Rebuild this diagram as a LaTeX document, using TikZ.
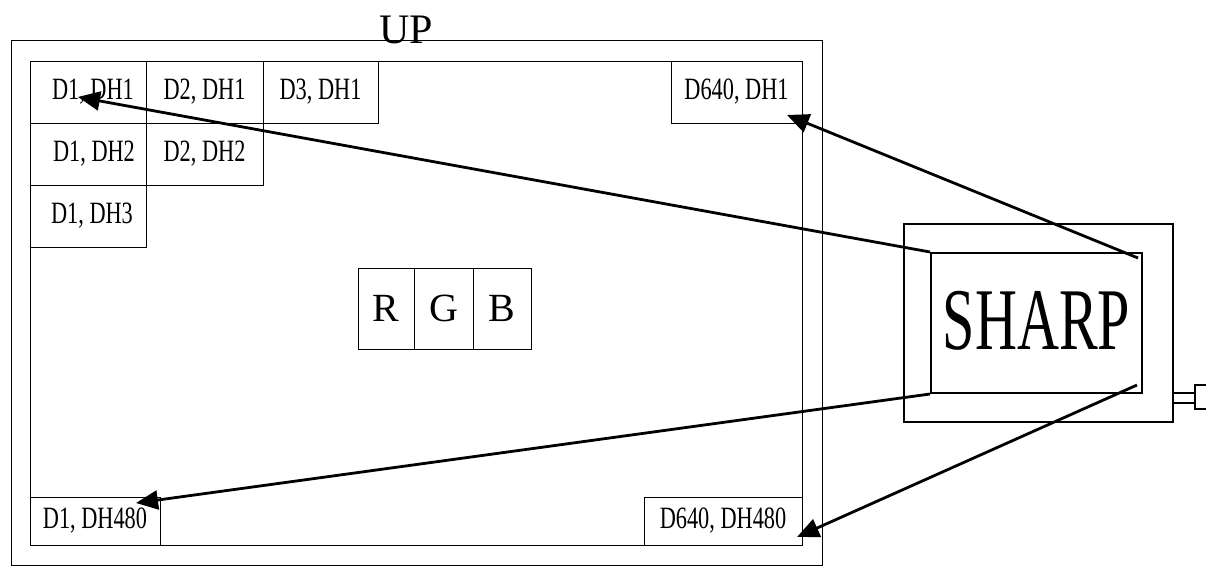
\documentclass[tikz,border=0pt]{standalone}
\usepackage{graphicx}
\usepackage{fontspec}
\setmainfont{Liberation Serif}
\usetikzlibrary{arrows.meta}

\newlength{\du}
\setlength{\du}{1pt}
\newcommand{\narrow}[2]{\scalebox{#1}[1]{#2}}

\tikzset{
  cell/.style={draw, line width=1.0\du, inner sep=0pt, minimum height=62\du,
    font=\fontsize{31}{31}\selectfont},
  frame/.style={draw, line width=1.0\du},
  lcdbox/.style={draw, line width=2.0\du, inner sep=0pt},
  ray/.style={line width=2.8pt, -{Triangle[length=22pt,width=19pt]}}
}

\begin{document}
\begin{tikzpicture}
\pgftransformyscale{-1.000000}
\useasboundingbox (0\du,0\du) rectangle (1206\du,570\du);
% panel
\draw[frame] (11\du,40\du) rectangle (822\du,565\du);
\draw[frame] (30\du,61\du) rectangle (802\du,545\du);
\node[anchor=base, inner sep=0pt, font=\fontsize{42}{42}\selectfont] (up) at (406\du,43\du) {UP};
% pixel cells
\node[cell, minimum width=116\du] (c11) at (88\du,92\du) {\hspace{10\du}\narrow{0.72}{D1, DH1}};
\node[cell, minimum width=117\du] (c21) at (204.5\du,92\du) {\narrow{0.72}{D2, DH1}};
\node[cell, minimum width=115\du] (c31) at (320.5\du,92\du) {\narrow{0.72}{D3, DH1}};
\node[cell, minimum width=131\du] (cx1) at (736.5\du,92\du) {\narrow{0.72}{D640, DH1}};
\node[cell, minimum width=116\du] (c12) at (88\du,154\du) {\hspace{12\du}\narrow{0.72}{D1, DH2}};
\node[cell, minimum width=117\du] (c22) at (204.5\du,154\du) {\narrow{0.72}{D2, DH2}};
\node[cell, minimum width=116\du] (c13) at (88\du,216\du) {\hspace{8\du}\narrow{0.72}{D1, DH3}};
\node[cell, minimum width=130\du, minimum height=48\du] (c1y) at (95\du,521\du) {\narrow{0.72}{D1, DH480}};
\node[cell, minimum width=158\du, minimum height=48\du] (cxy) at (723\du,521\du) {\narrow{0.72}{D640, DH480}};
% sub pixels
\node[cell, minimum width=56\du, minimum height=81\du, font=\fontsize{40}{40}\selectfont] (r) at (386\du,308.5\du) {R};
\node[cell, minimum width=59\du, minimum height=81\du, font=\fontsize{40}{40}\selectfont] (g) at (443.5\du,308.5\du) {G};
\node[cell, minimum width=58\du, minimum height=81\du, font=\fontsize{40}{40}\selectfont] (b) at (502\du,308.5\du) {B};
% module
\node[lcdbox, minimum width=269\du, minimum height=198\du] (module) at (1038.5\du,323\du) {};
\node[lcdbox, minimum width=211\du, minimum height=140\du] (lcd) at (1036.5\du,323\du) {};
\node[font=\fontsize{88}{88}\selectfont] (sharp) at (1036.5\du,321\du) {\narrow{0.66}{SHARP}};
\draw[line width=1.5\du] (1173\du,393\du) rectangle (1195\du,403\du);
\draw[line width=1.5\du] (1207\du,385\du)--(1195\du,385\du)--(1195\du,409\du)--(1207\du,409\du);
% rays
\coordinate (s2) at (1138\du,258\du);
\coordinate (s4) at (1137\du,385\du);
\coordinate (t11) at (78\du,97\du);
\coordinate (tx1) at (787\du,115\du);
\coordinate (t1y) at (136\du,503\du);
\coordinate (txy) at (797\du,537\du);
\draw[ray] (lcd.north west) -- (t11);
\draw[ray] (s2) -- (tx1);
\draw[ray] (lcd.south west) -- (t1y);
\draw[ray] (s4) -- (txy);
\end{tikzpicture}
\end{document}
